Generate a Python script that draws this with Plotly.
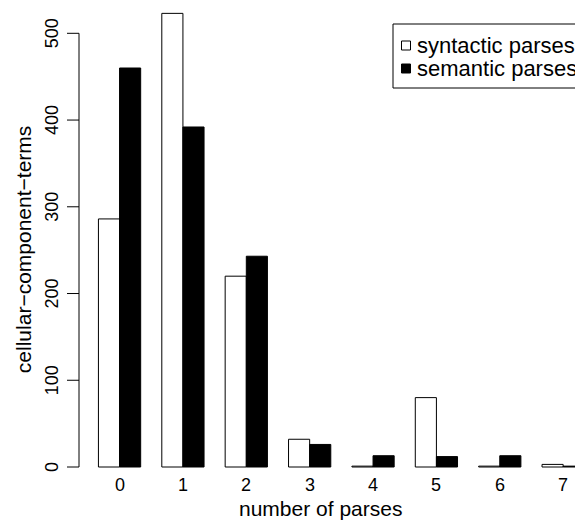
import plotly.graph_objects as go

categories = ["0", "1", "2", "3", "4", "5", "6", "7"]
syntactic = [286, 523, 220, 32, 1, 80, 1, 3]
semantic = [460, 392, 243, 26, 13, 12, 13, 1]
y_ticks = [0, 100, 200, 300, 400, 500]
series_names = ["syntactic parses", "semantic parses"]

W, H = 575, 520
L, R, T, B = 79, 0, 0, 35
PW, PH = W - L - R, H - T - B
FAMILY = "Liberation Sans, Arial, sans-serif"
TICK_FONT = dict(family=FAMILY, size=18, color="black")
LAB_FONT = dict(family=FAMILY, size=21, color="black")
LEG_FONT = dict(family=FAMILY, size=22, color="black")


def px_x(p):
    return (p - L) / PW


def px_y(p):
    return (H - B - p) / PH


fig = go.Figure()
fig.add_trace(go.Bar(x=categories, y=syntactic, name=series_names[0],
                     marker=dict(color="white", line=dict(color="black", width=1))))
fig.add_trace(go.Bar(x=categories, y=semantic, name=series_names[1],
                     marker=dict(color="black", line=dict(color="black", width=1))))

shapes = []
shapes.append(dict(type="line", xref="paper", yref="y", x0=0, x1=0, y0=y_ticks[0], y1=y_ticks[-1],
                   line=dict(color="black", width=1)))
annotations = []
for t in y_ticks:
    shapes.append(dict(type="line", xref="paper", yref="y", xsizemode="pixel", xanchor=0,
                       x0=-12, x1=0, y0=t, y1=t, line=dict(color="black", width=1)))
    annotations.append(dict(text=str(t), xref="paper", yref="y", x=0, y=t, xshift=-27,
                            textangle=-90, showarrow=False, font=TICK_FONT,
                            xanchor="center", yanchor="middle"))
annotations.append(dict(text="cellular\u2212component\u2212terms", xref="paper", yref="y",
                        x=0, y=250, xshift=-56, textangle=-90, showarrow=False, font=LAB_FONT,
                        xanchor="center", yanchor="middle"))
for i, c in enumerate(categories):
    annotations.append(dict(text=c, xref="x", yref="paper", x=i, y=0, showarrow=False,
                            font=TICK_FONT, xanchor="center", yanchor="middle"))
annotations.append(dict(text="number of parses", xref="paper", yref="paper", x=px_x(320), y=0,
                        yshift=-23, showarrow=False, font=LAB_FONT, xanchor="center",
                        yanchor="middle"))

# legend drawn manually (box open on the right, cut by the page edge like the reference)
box_l, box_r, box_t, box_b = px_x(393), px_x(700), px_y(24), px_y(88)
for x0, x1, y0, y1 in [(box_l, box_r, box_t, box_t), (box_l, box_r, box_b, box_b),
                       (box_l, box_l, box_b, box_t)]:
    shapes.append(dict(type="line", xref="paper", yref="paper", x0=x0, x1=x1, y0=y0, y1=y1,
                       line=dict(color="black", width=1)))
legend_rows = [(45.5, "white"), (68.5, "black")]
for (cy, col), name in zip(legend_rows, series_names):
    shapes.append(dict(type="rect", xref="paper", yref="paper", x0=px_x(401.5), x1=px_x(410.5),
                       y0=px_y(cy + 4.5), y1=px_y(cy - 4.5), line=dict(color="black", width=1),
                       fillcolor=col))
    annotations.append(dict(text=name, xref="paper", yref="paper", x=px_x(415), y=px_y(cy),
                            showarrow=False, font=LEG_FONT, xanchor="left", yanchor="middle"))

fig.update_layout(
    width=W, height=H, margin=dict(l=L, r=R, t=T, b=B),
    paper_bgcolor="white", plot_bgcolor="white",
    barmode="group", bargap=1 / 3, bargroupgap=0, showlegend=False,
    xaxis=dict(range=[-0.64, 7.187], showticklabels=False, showgrid=False, zeroline=False,
               showline=False, ticks=""),
    yaxis=dict(range=[-20.75, 538.4], showticklabels=False, showgrid=False, zeroline=False,
               showline=False, ticks=""),
    shapes=shapes, annotations=annotations, font=TICK_FONT,
)
fig.write_html("out.html", config={"displayModeBar": False, "staticPlot": True},
               post_script="document.body.style.margin='0';document.body.style.overflow='hidden';")
